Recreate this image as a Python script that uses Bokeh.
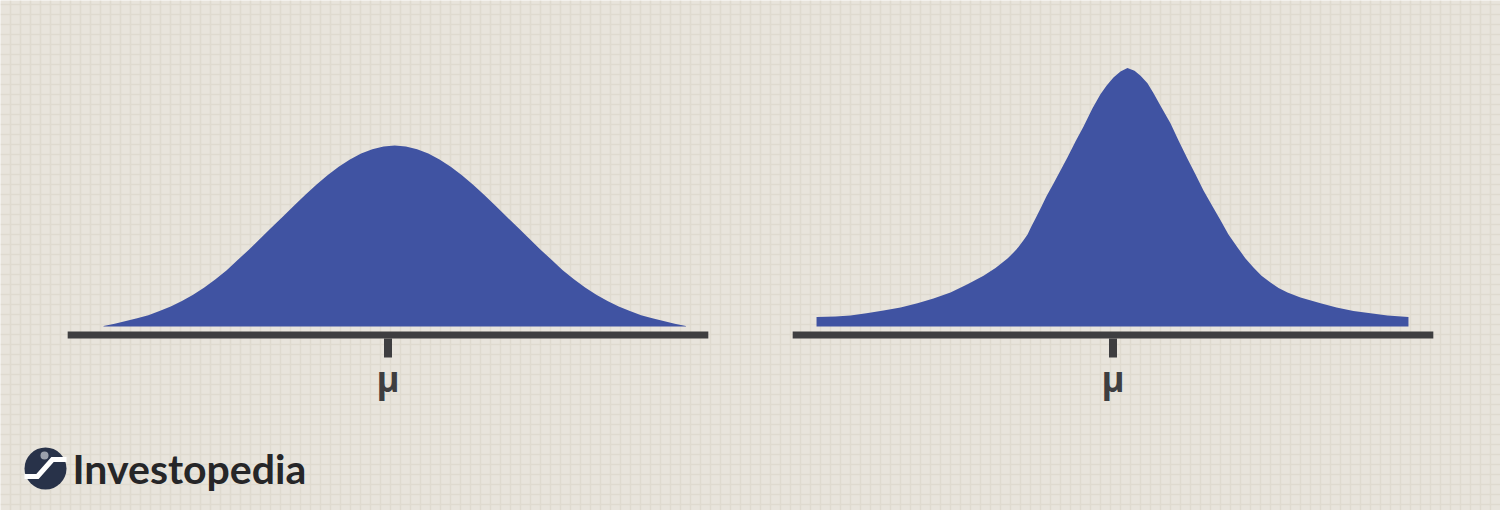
from bokeh.plotting import figure
from bokeh.models import Range1d, FixedTicker
from bokeh.core.properties import value
from bokeh.embed import file_html
from bokeh.resources import INLINE

# ---------------- data (distribution units: x in sigma, y in density) -------------
left_z = [-2.6, -2.5, -2.4, -2.3, -2.2, -2.1, -2.0, -1.9, -1.8, -1.7, -1.6, -1.5, -1.4,
          -1.3, -1.2, -1.1, -1.0, -0.9, -0.8, -0.7, -0.6, -0.5, -0.4, -0.3, -0.2, -0.1,
          0.0, 0.1, 0.2, 0.3, 0.4, 0.5, 0.6, 0.7, 0.8, 0.9, 1.0, 1.1, 1.2, 1.3, 1.4,
          1.5, 1.6, 1.7, 1.8, 1.9, 2.0, 2.1, 2.2, 2.3, 2.4, 2.5, 2.6]
left_density = [0.001, 0.006, 0.012, 0.018, 0.025, 0.034, 0.044, 0.056, 0.070, 0.086,
                0.104, 0.124, 0.147, 0.170, 0.194, 0.218, 0.242, 0.2661, 0.2897,
                0.3123, 0.3332, 0.3521, 0.3683, 0.3814, 0.391, 0.397, 0.3989, 0.397,
                0.391, 0.3814, 0.3683, 0.3521, 0.3332, 0.3123, 0.2897, 0.2661, 0.242,
                0.218, 0.194, 0.170, 0.147, 0.124, 0.104, 0.086, 0.070, 0.056,
                0.044, 0.034, 0.025, 0.018, 0.012, 0.006, 0.001]

right_z = [-2.647, -2.478, -2.344, -2.201, -2.049, -1.897, -1.746, -1.603, -1.451, -1.299,
           -1.156, -1.049, -0.942, -0.888, -0.844, -0.799, -0.763, -0.728, -0.692, -0.647,
           -0.594, -0.531, -0.469, -0.406, -0.335, -0.263, -0.183, -0.112, -0.058, 0.004,
           0.067, 0.129, 0.192, 0.246, 0.308, 0.362, 0.433, 0.513, 0.585, 0.665, 0.737,
           0.808, 0.888, 0.960, 1.031, 1.112, 1.183, 1.254, 1.326, 1.406, 1.478, 1.558,
           1.674, 1.853, 1.996, 2.147, 2.299, 2.451, 2.638]
right_density = [0.021, 0.022, 0.024, 0.029, 0.035, 0.042, 0.051, 0.062, 0.075, 0.093,
                 0.112, 0.129, 0.150, 0.163, 0.175, 0.190, 0.203, 0.221, 0.238, 0.260,
                 0.287, 0.315, 0.344, 0.373, 0.408, 0.441, 0.481, 0.512, 0.531, 0.549,
                 0.562, 0.570, 0.564, 0.553, 0.536, 0.514, 0.483, 0.448, 0.410, 0.370,
                 0.335, 0.300, 0.265, 0.234, 0.203, 0.174, 0.150, 0.130, 0.112, 0.097,
                 0.085, 0.075, 0.064, 0.051, 0.042, 0.034, 0.029, 0.024, 0.021]

axis_label = "μ"
brand = "Investopedia"

# ---------------- layout / style -------------
W, H = 1500, 510
PX_X = 112.0      # pixels per sigma
PX_Y = 453.6      # pixels per density unit
MU_LEFT_PX = 387.5
BASE_PX = 326.0
X0 = -MU_LEFT_PX / PX_X
X1 = (W - MU_LEFT_PX) / PX_X
Y0 = -(H - BASE_PX) / PX_Y
Y1 = BASE_PX / PX_Y

MU_LEFT = 0.0
MU_RIGHT = 725.0 / PX_X
LEFT_SHIFT = 0.06
AXIS_HALF = 2.86
AXIS_Y = -8.5 / PX_Y
TICK_TOP = -12.0 / PX_Y
TICK_BOT = -31.0 / PX_Y
LABEL_Y = -52.0 / PX_Y

BG = "#e8e4dc"
GRID = "#dfdacf"
FILL = "#4053a2"
DARK = "#3e3e40"

p = figure(width=W, height=H, x_range=Range1d(X0, X1), y_range=Range1d(Y0, Y1),
           output_backend="svg", toolbar_location=None, min_border=0)
p.axis.visible = False
p.outline_line_color = None
p.background_fill_color = BG
p.border_fill_color = BG

p.xgrid.ticker = FixedTicker(ticks=[(px - MU_LEFT_PX) / PX_X for px in range(0, W + 1, 10)])
p.ygrid.ticker = FixedTicker(ticks=[(BASE_PX - py) / PX_Y for py in range(4, H + 1, 10)])
p.grid.grid_line_color = GRID
p.grid.grid_line_width = 1.5

# curves
p.varea(x=[MU_LEFT + LEFT_SHIFT + z for z in left_z], y1=0, y2=left_density, fill_color=FILL)
p.varea(x=[MU_RIGHT + z for z in right_z], y1=0, y2=right_density, fill_color=FILL)

# baseline axes and mean ticks
for mu in (MU_LEFT, MU_RIGHT):
    p.segment(x0=[mu - AXIS_HALF], y0=[AXIS_Y], x1=[mu + AXIS_HALF], y1=[AXIS_Y],
              line_color=DARK, line_width=7, line_cap="butt")
    p.segment(x0=[mu], y0=[TICK_TOP], x1=[mu], y1=[TICK_BOT],
              line_color=DARK, line_width=8, line_cap="butt")
    p.text(x=[mu], y=[LABEL_Y], text=[axis_label], text_align="center",
           text_baseline="alphabetic", text_font=value("Open Sans"),
           text_font_size="35px", text_font_style="bold", text_color=DARK)

# logo
def px(xp, yp):
    return (xp - MU_LEFT_PX) / PX_X, (BASE_PX - yp) / PX_Y

cx, cy = px(45, 468)
p.scatter(x=[cx], y=[cy], size=42, marker="circle", fill_color="#283249", line_color=None)
zx, zy = zip(*[px(24, 476), px(37, 476), px(52, 459), px(66, 459)])
p.line(x=list(zx), y=list(zy), line_color="white", line_width=5, line_join="miter")
dx, dy = px(44, 455)
p.scatter(x=[dx], y=[dy], size=8, marker="circle", fill_color="#9ba1ad", line_color=None)
tx, ty = px(72, 468)
p.text(x=[tx], y=[ty], text=[brand], text_align="left", text_baseline="alphabetic",
       text_font=value("Lato"), text_font_size="41px", text_font_style="bold",
       text_color="#262628")

open("out.html", "w").write(file_html(p, INLINE))
